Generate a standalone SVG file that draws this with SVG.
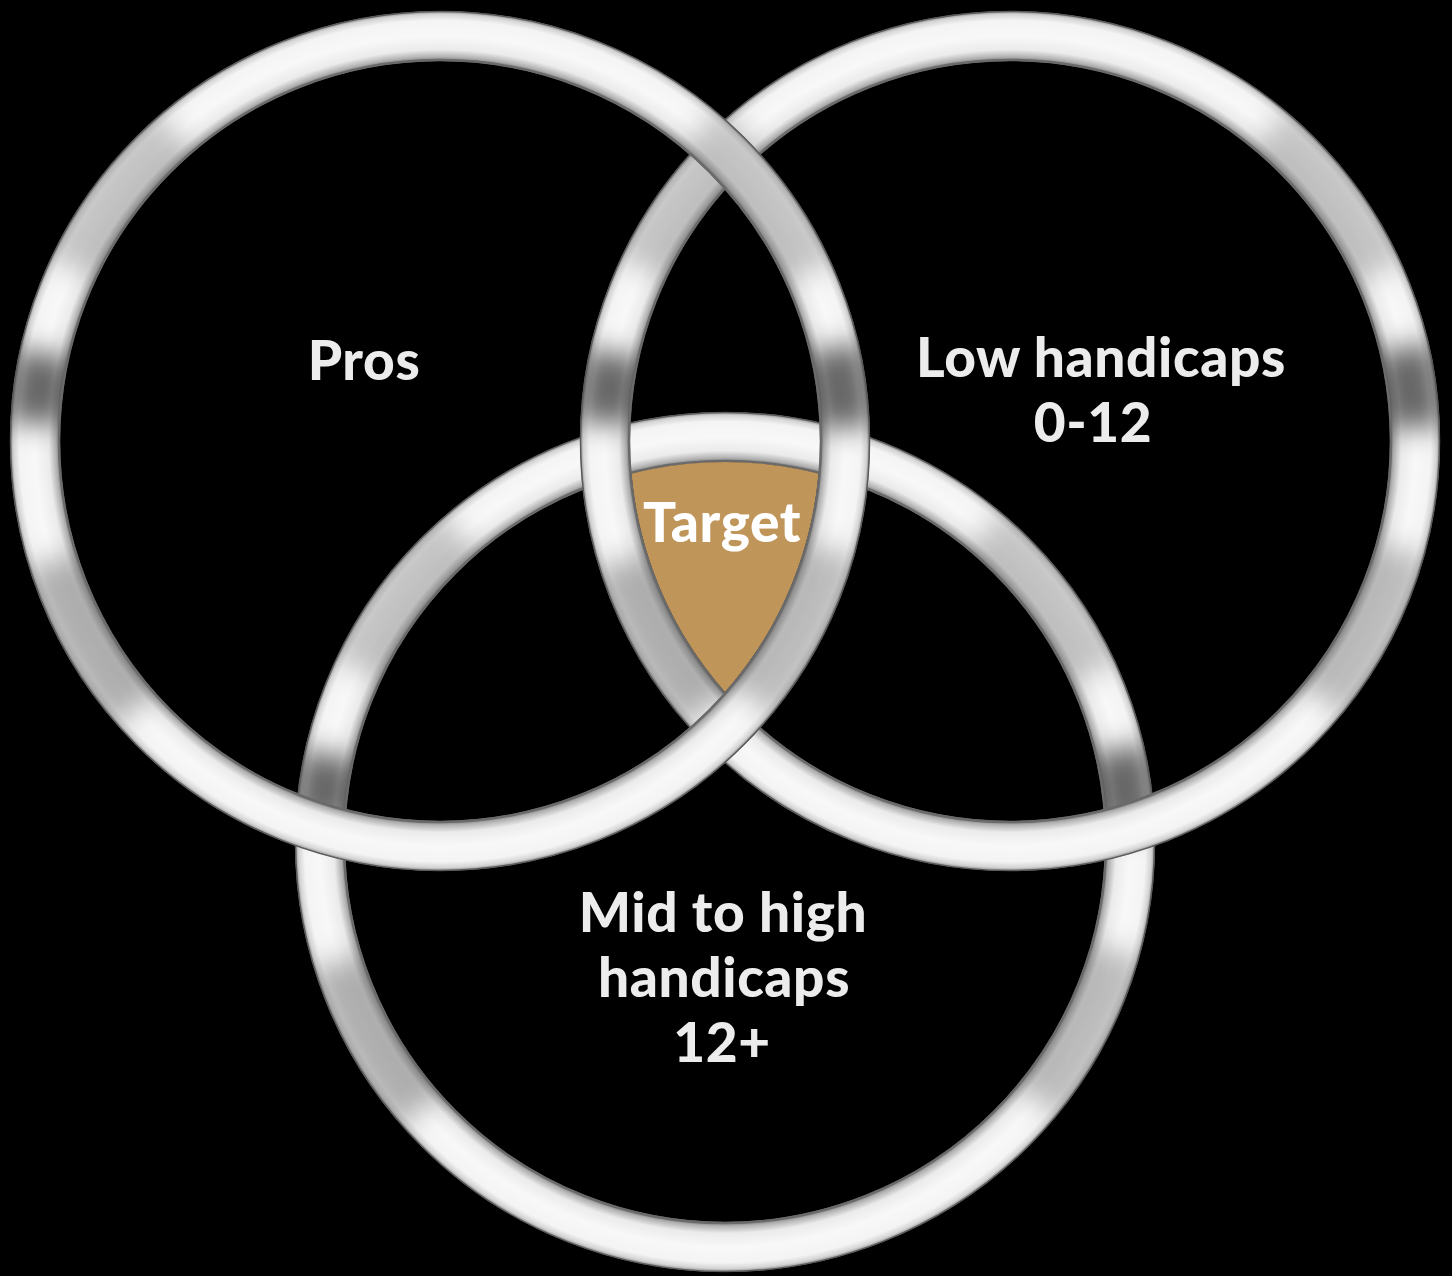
<svg xmlns="http://www.w3.org/2000/svg" xmlns:xlink="http://www.w3.org/1999/xlink" width="1452" height="1276" viewBox="0 0 1452 1276">
  <style>
    .lbl { font-family: Lato, "Liberation Sans", sans-serif; font-weight: 900; font-size: 55px; letter-spacing: 0.6px; fill: #ececec; text-anchor: middle; }
    .tgt { fill: #ffffff; }
    .patch { fill: none; stroke-width: 54; }
  </style>
  <defs>
    <radialGradient id="band" gradientUnits="userSpaceOnUse" cx="0" cy="0" r="430">
      <stop offset="0.8837" stop-color="#707070"/>
      <stop offset="0.893" stop-color="#b0b0b0"/>
      <stop offset="0.91" stop-color="#ebebeb"/>
      <stop offset="0.942" stop-color="#f8f8f8"/>
      <stop offset="0.978" stop-color="#f4f4f4"/>
      <stop offset="0.992" stop-color="#d4d4d4"/>
      <stop offset="1" stop-color="#8a8a8a"/>
    </radialGradient>
    <clipPath id="annulus">
      <path clip-rule="evenodd" d="M430,0 A430,430 0 1,0 -430,0 A430,430 0 1,0 430,0 Z M380,0 A380,380 0 1,0 -380,0 A380,380 0 1,0 380,0 Z"/>
    </clipPath>
    <filter id="soft" x="-25%" y="-25%" width="150%" height="150%">
      <feGaussianBlur stdDeviation="14"/>
    </filter>
    <clipPath id="innerA"><circle cx="440" cy="441" r="380"/></clipPath>
    <clipPath id="innerB"><circle cx="1010" cy="441" r="380"/></clipPath>
    <g id="ring">
      <circle r="405" fill="none" stroke="url(#band)" stroke-width="50"/>
      <g clip-path="url(#annulus)">
        <g filter="url(#soft)">
          <circle class="patch" r="405" stroke="#000" stroke-opacity="0.6" stroke-dasharray="0 2450 80 3000"/>
          <circle class="patch" r="405" stroke="#000" stroke-opacity="0.6" stroke-dasharray="0 1290 70 3000"/>
          <circle class="patch" r="405" stroke="#000" stroke-opacity="0.25" stroke-dasharray="0 110 170 3000"/>
          <circle class="patch" r="405" stroke="#000" stroke-opacity="0.3" stroke-dasharray="0 980 170 3000"/>
          <circle class="patch" r="405" stroke="#000" stroke-opacity="0.22" stroke-dasharray="0 1450 170 3000"/>
          <circle class="patch" r="405" stroke="#000" stroke-opacity="0.22" stroke-dasharray="0 2190 180 3000"/>
        </g>
      </g>
      <circle r="429.5" fill="none" stroke="#5a5a5a" stroke-width="1.5"/>
      <circle r="381" fill="none" stroke="#6a6a6a" stroke-width="2.5"/>
    </g>
  </defs>

  <rect x="0" y="0" width="1452" height="1276" fill="#000"/>

  <g id="ring-mid">
    <use xlink:href="#ring" href="#ring" transform="translate(725,842)"/>
    <text class="lbl" x="723" y="932">Mid to high</text>
    <text class="lbl" x="724" y="997">handicaps</text>
    <text class="lbl" x="722" y="1062">12+</text>
  </g>

  <g id="target-region">
    <g clip-path="url(#innerA)">
      <g clip-path="url(#innerB)">
        <circle cx="725" cy="842" r="380" fill="#c0955a"/>
      </g>
    </g>
  </g>

  <g id="ring-low">
    <use xlink:href="#ring" href="#ring" transform="translate(1010,441)"/>
    <text class="lbl" x="1101" y="377">Low handicaps</text>
    <text class="lbl" x="1093" y="442">0-12</text>
  </g>

  <g id="ring-pros">
    <use xlink:href="#ring" href="#ring" transform="translate(440,441)"/>
    <text class="lbl" x="364" y="380">Pros</text>
  </g>

  <g id="target">
    <text class="lbl tgt" x="722" y="542">Target</text>
  </g>

  <g id="connectors"></g>
</svg>
